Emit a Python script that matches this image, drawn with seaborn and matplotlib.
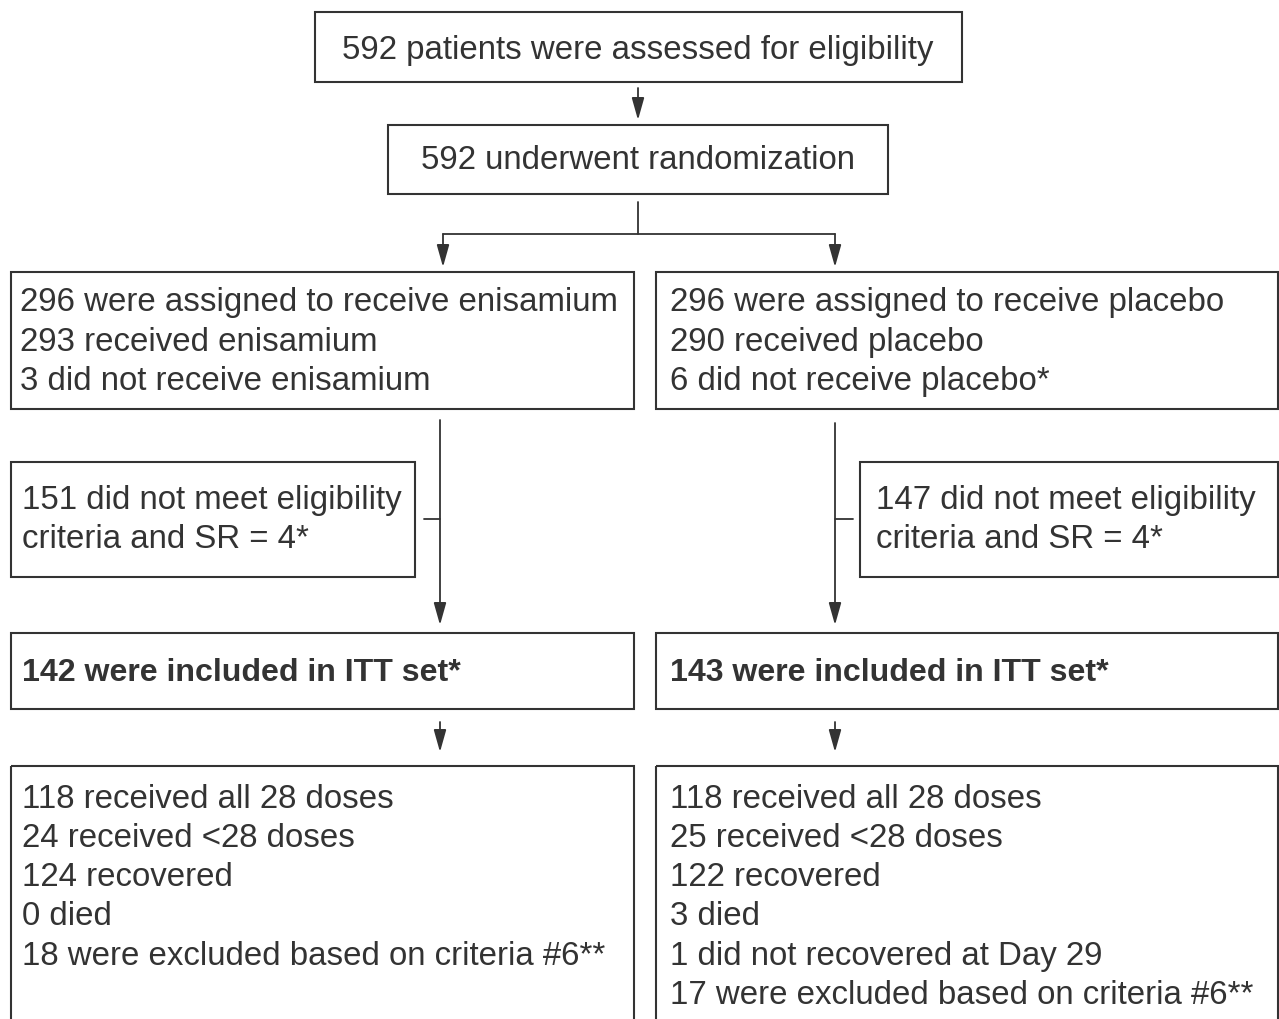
import matplotlib
matplotlib.use("Agg")
import matplotlib.pyplot as plt
import seaborn as sns
from matplotlib.patches import Rectangle

sns.set_style("white")
plt.rcParams['font.family'] = ['Liberation Sans', 'DejaVu Sans']

# box texts
top_text = "592 patients were assessed for eligibility"
rand_text = "592 underwent randomization"
assign_left = ["296 were assigned to receive enisamium",
               "293 received enisamium",
               "3 did not receive enisamium"]
assign_right = ["296 were assigned to receive placebo",
                "290 received placebo",
                "6 did not receive placebo*"]
excl_left = ["151 did not meet eligibility", "criteria and SR = 4*"]
excl_right = ["147 did not meet eligibility", "criteria and SR = 4*"]
itt_left = "142 were included in ITT set*"
itt_right = "143 were included in ITT set*"
out_left = ["118 received all 28 doses",
            "24 received <28 doses",
            "124 recovered",
            "0 died",
            "18 were excluded based on criteria #6**"]
out_right = ["118 received all 28 doses",
             "25 received <28 doses",
             "122 recovered",
             "3 died",
             "1 did not recovered at Day 29",
             "17 were excluded based on criteria #6**"]

W, H = 1279, 1019
fig = plt.figure(figsize=(W / 100, H / 100), dpi=100)
ax = fig.add_axes([0, 0, 1, 1])
ax.set_xlim(0, W)
ax.set_ylim(H, 0)
ax.axis("off")

ink = "#333333"
fs = 23.8
step = 39.3
dy = 3  # nudge text baseline down a bit


def box(x0, y0, x1, y1, lw=1.5):
    ax.add_patch(Rectangle((x0, y0), x1 - x0, y1 - y0, fill=False,
                           edgecolor=ink, linewidth=lw))


def lines(x, y, rows, bold=False):
    for i, t in enumerate(rows):
        ax.text(x, y + dy + i * step, t, fontsize=fs - (0.7 if bold else 0),
                color=ink, va="center", ha="left",
                fontweight="bold" if bold else "normal")


def arrow(x, y0, y1):
    ax.annotate("", xy=(x, y1), xytext=(x, y0),
                arrowprops=dict(arrowstyle="-|>,head_length=1.35,head_width=0.38",
                                mutation_scale=10, color=ink, lw=1.3,
                                shrinkA=0, shrinkB=0))


def seg(xs, ys):
    ax.plot(xs, ys, color=ink, lw=1.3)


# top part
box(315, 12, 962, 82)
ax.text(638, 47 + dy, top_text, fontsize=fs, color=ink, ha="center", va="center")
arrow(638, 88, 120)
box(388, 125, 888, 194)
ax.text(638, 157 + dy, rand_text, fontsize=fs, color=ink, ha="center", va="center")
seg([638, 638], [202, 234])
seg([443, 835], [234, 234])
arrow(443, 234, 267)
arrow(835, 234, 267)

# assignment
box(11, 272, 634, 409)
box(656, 272, 1278, 409)
lines(20, 300, assign_left)
lines(670, 300, assign_right)

# exclusion branches
arrow(440, 420, 625)
arrow(835, 423, 625)
box(11, 462, 415, 577)
box(860, 462, 1278, 577)
seg([424, 440], [519, 519])
seg([835, 853], [519, 519])
lines(22, 497, excl_left)
lines(876, 497, excl_right)

# ITT
box(11, 633, 634, 709)
box(656, 633, 1278, 709)
lines(22, 670, [itt_left], bold=True)
lines(670, 670, [itt_right], bold=True)
arrow(440, 722, 752)
arrow(835, 722, 752)

# outcomes
box(11, 766, 634, 1060)
box(656, 766, 1278, 1060)
lines(22, 796, out_left)
lines(670, 796, out_right)

fig.savefig("out.png", dpi=100, facecolor="white")
